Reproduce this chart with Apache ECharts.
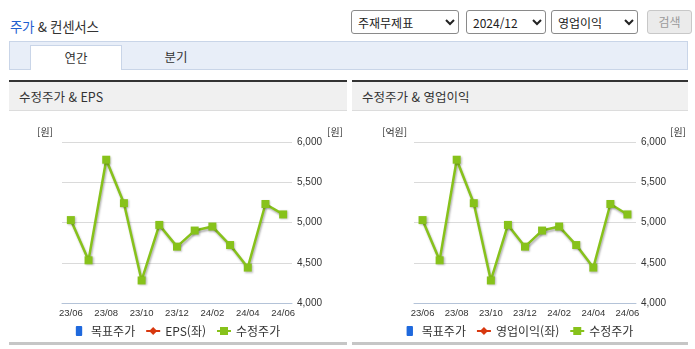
<!DOCTYPE html>
<html lang="ko">
<head>
<meta charset="utf-8">
<title>주가 & 컨센서스</title>
<script src="https://cdn.jsdelivr.net/npm/echarts@6/dist/echarts.min.js"></script>
<style>
  html, body { margin: 0; padding: 0; background: #fff; }
  body { width: 695px; height: 349px; position: relative; overflow: hidden;
         font-family: "Noto Sans CJK KR", "Noto Sans", sans-serif; color: #333; }
  .abs { position: absolute; }
  .page-title { left: 10px; top: 16px; font-size: 13.5px; line-height: 20px; letter-spacing: -0.3px; }
  .page-title .hl { color: #1f5fcf; }
  select { position: absolute; top: 10px; height: 24px; font-size: 12px; font-family: inherit;
           border: 1px solid #8a8a8a; border-radius: 3px; background: #fff; color: #222; padding: 0 2px; }
  .btn { left: 647px; top: 10px; width: 43px; height: 22px; border: 1px solid #c8c8c8; border-radius: 3px;
         background: #ebebeb; color: #9a9a9a; font-size: 12px; line-height: 22px; text-align: center; }
  .tabbar { left: 9px; top: 41px; width: 677px; height: 27px; background: #e8eef8; border: 1px solid #c9d5e8; }
  .tab { top: 45px; height: 24px; font-size: 12.5px; line-height: 24px; text-align: center; }
  .tab.on { left: 30px; width: 90px; background: #fff; border: 1px solid #c9d5e8; border-bottom: none; }
  .panel-top { top: 80px; height: 2px; background: #333; }
  .panel-head { top: 82px; height: 28px; background: #f0f0f0; border-bottom: 1px solid #dcdcdc;
                font-size: 12.5px; line-height: 30px; text-indent: 10px; color: #333; }
  .panel-foot { top: 342px; height: 3px; background: #c6c6c6; }
</style>
</head>
<body>
<div class="abs page-title"><span class="hl">주가</span> &amp; 컨센서스</div>
<select style="left:351px;width:108px"><option>주재무제표</option></select>
<select style="left:466px;width:80px"><option>2024/12</option></select>
<select style="left:551px;width:87px"><option>영업이익</option></select>
<div class="abs btn">검색</div>

<div class="abs tabbar"></div>
<div class="abs tab on">연간</div>
<div class="abs tab" style="left:140px;width:72px">분기</div>

<div class="abs panel-top" style="left:9px;width:338px"></div>
<div class="abs panel-head" style="left:9px;width:338px">수정주가 &amp; EPS</div>
<div id="chartEps" class="abs" style="left:9px;top:112px;width:338px;height:229px"></div>
<div class="abs panel-foot" style="left:9px;width:338px"></div>

<div class="abs panel-top" style="left:352px;width:336px"></div>
<div class="abs panel-head" style="left:352px;width:336px">수정주가 &amp; 영업이익</div>
<div id="chartOp" class="abs" style="left:352px;top:112px;width:336px;height:229px"></div>
<div class="abs panel-foot" style="left:352px;width:336px"></div>

<script>
// 월별 카테고리 (23/06 ~ 24/06)
const months = ['23/06', '23/07', '23/08', '23/09', '23/10', '23/11', '23/12',
                '24/01', '24/02', '24/03', '24/04', '24/05', '24/06']
// 수정주가 (원)
const adjPrice = [5030, 4530, 5780, 5240, 4280, 4970, 4700, 4900, 4950, 4720, 4440, 5230, 5100]
// 목표주가 / EPS / 영업이익 — 값 없음
const targetPrice = []
const epsValues = []
const opProfit = []
// 오른쪽 축 눈금
const priceMin = 4000
const priceMax = 6000
const priceStep = 500

const GREEN = '#87c21b'
const RED = '#d8380f'
const BLUE = '#1f69dd'
const LABEL_FONT = '"Liberation Sans", Arial, sans-serif'

// 차트 하나 만들기
const makeChart = (el, cfg) => {
  const chart = echarts.init(el, null, { renderer: 'canvas' })
  const option = {
    animation: false,
    grid: { left: cfg.gridLeft, right: cfg.gridRight, top: 30, bottom: 38 },
    graphic: [
      { type: 'text', left: cfg.leftNameX, top: 15,
        style: { text: cfg.leftName, font: '10px "Noto Sans CJK KR"', fill: '#333', textAlign: 'center' } },
      { type: 'text', left: cfg.rightNameX, top: 15,
        style: { text: '[원]', font: '10px "Noto Sans CJK KR"', fill: '#333', textAlign: 'center' } }
    ],
    legend: {
      left: 'center',
      top: 208,
      itemWidth: 14,
      itemHeight: 10,
      itemGap: 10,
      textStyle: { fontSize: 12, color: '#333', fontFamily: '"Noto Sans CJK KR"' },
      data: [
        { name: '목표주가', icon: 'path://M1,0h5a1,1 0 0 1 1,1v9a1,1 0 0 1-1,1h-5a1,1 0 0 1-1-1v-9a1,1 0 0 1 1-1z' },
        { name: cfg.barName },
        { name: '수정주가' }
      ]
    },
    xAxis: {
      type: 'category',
      data: months,
      boundaryGap: true,
      axisLine: { lineStyle: { color: '#b4c3d8' } },
      axisTick: {
        length: 4,
        lineStyle: { color: '#b4c3d8' },
        interval: (i) => i === 0 || i % 2 === 1
      },
      axisLabel: { interval: 1, margin: 5, fontSize: 9.5, color: '#333', fontFamily: LABEL_FONT }
    },
    yAxis: [
      {
        type: 'value',
        position: 'left',
        axisLine: { show: false },
        axisTick: { show: false },
        axisLabel: { show: false },
        splitLine: { show: false }
      },
      {
        type: 'value',
        position: 'right',
        min: priceMin,
        max: priceMax,
        interval: priceStep,
        axisLine: { show: false },
        axisTick: { show: false },
        axisLabel: {
          margin: 5,
          fontSize: 10,
          color: '#333',
          fontFamily: LABEL_FONT,
          formatter: (v) => v.toLocaleString('en-US')
        },
        splitLine: { lineStyle: { color: '#dadada' } }
      }
    ],
    series: [
      {
        name: '목표주가',
        type: 'bar',
        yAxisIndex: 1,
        itemStyle: { color: BLUE },
        data: targetPrice
      },
      {
        name: cfg.barName,
        type: 'line',
        yAxisIndex: 0,
        symbol: 'diamond',
        symbolSize: 8,
        itemStyle: { color: RED },
        lineStyle: { color: RED, width: 2 },
        data: cfg.leftValues
      },
      {
        name: '수정주가',
        type: 'line',
        yAxisIndex: 1,
        symbol: 'rect',
        symbolSize: 8,
        itemStyle: { color: GREEN, shadowColor: 'rgba(0,0,0,0.25)', shadowBlur: 2, shadowOffsetX: 1, shadowOffsetY: 1 },
        lineStyle: { color: GREEN, width: 2.5, shadowColor: 'rgba(0,0,0,0.3)', shadowBlur: 2, shadowOffsetX: 1, shadowOffsetY: 2 },
        data: adjPrice
      }
    ]
  }
  chart.setOption(option)
  return chart
}

makeChart(document.getElementById('chartEps'), {
  gridLeft: 53, gridRight: 55,
  leftName: '[원]', leftNameX: 28, rightNameX: 318,
  barName: 'EPS(좌)', leftValues: epsValues
})

makeChart(document.getElementById('chartOp'), {
  gridLeft: 62, gridRight: 52,
  leftName: '[억원]', leftNameX: 30, rightNameX: 318,
  barName: '영업이익(좌)', leftValues: opProfit
})
</script>
</body>
</html>
